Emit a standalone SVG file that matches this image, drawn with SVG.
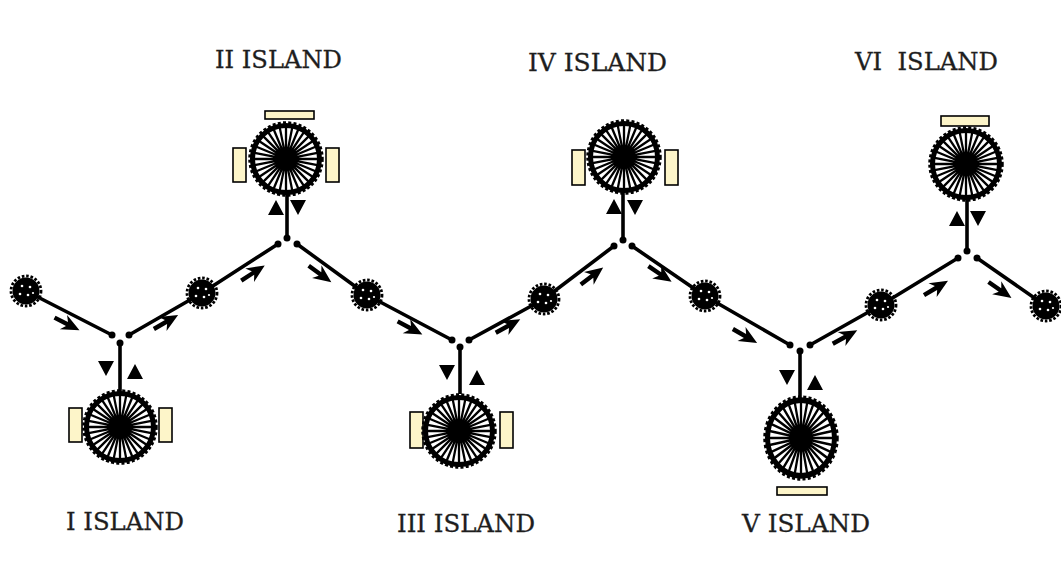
<svg xmlns="http://www.w3.org/2000/svg" xmlns:xlink="http://www.w3.org/1999/xlink" width="1061" height="572" viewBox="0 0 1061 572">
  <style>
    .link { stroke: #000; stroke-width: 3.6; stroke-linecap: round; fill: none; }
    .stub { stroke: #000; stroke-width: 3.6; fill: none; }
    .dot { fill: #000; }
    .pad { fill: #fdf5c9; stroke: #000; stroke-width: 1.6; }
    .tri { fill: #000; }
    .label { font-family: "DejaVu Serif", "Liberation Serif", serif; font-size: 24px; fill: #1e1e1e; stroke: #1e1e1e; stroke-width: 0.3; }
  </style>
  <defs>
    <!-- large spoked wheel (island) -->
    <g id="wheel">
      <circle r="33.5" fill="#fff" stroke="#000" stroke-width="5"/>
      <circle r="36" fill="none" stroke="#000" stroke-width="3.5" stroke-dasharray="3 2.2"/>
      <path stroke="#000" stroke-width="2.3" fill="none"
        d="M-32 0L32 0M-31.39 -6.24L31.39 6.24M-29.56 -12.25L29.56 12.25M-26.61 -17.78L26.61 17.78M-22.63 -22.63L22.63 22.63M-17.78 -26.61L17.78 26.61M-12.25 -29.56L12.25 29.56M-6.24 -31.39L6.24 31.39
           M0 -32L0 32M6.24 -31.39L-6.24 31.39M12.25 -29.56L-12.25 29.56M17.78 -26.61L-17.78 26.61M22.63 -22.63L-22.63 22.63M26.61 -17.78L-26.61 17.78M29.56 -12.25L-29.56 12.25M31.39 -6.24L-31.39 6.24"/>
      <circle r="9" fill="#000"/>
    </g>
    <!-- small beaded ring node -->
    <g id="knot">
      <circle r="13.5" fill="#000"/>
      <circle r="15" fill="none" stroke="#000" stroke-width="2.8" stroke-dasharray="2.6 1.8"/>
      <circle cx="-4" cy="-5" r="1.3" fill="#fff"/>
      <circle cx="4" cy="-4" r="1.3" fill="#fff"/>
      <circle cx="-6" cy="3" r="1.3" fill="#fff"/>
      <circle cx="2" cy="4" r="1.3" fill="#fff"/>
      <circle cx="7" cy="2" r="1.1" fill="#fff"/>
    </g>
    <!-- flow arrow pointing along +x -->
    <path id="flow" d="M-14 -2.2L0 -2.2L-4 -8L14 0L-4 8L0 2.2L-14 2.2Z" fill="#000"/>
    <!-- up / down triangles beside each stub -->
    <path id="tri-up" d="M-8 7L8 7L0 -8Z"/>
    <path id="tri-down" d="M-8 -7L8 -7L0 8Z"/>
  </defs>

  <rect width="1061" height="572" fill="#fff"/>

  <!-- connectors -->
  <g id="connectors">
    <path class="link" d="M26 291L112 335"/>
    <path class="link" d="M129 335L202 293"/>
    <path class="link" d="M202 293L278 244"/>
    <path class="link" d="M297 244L367 295"/>
    <path class="link" d="M367 295L452 340"/>
    <path class="link" d="M469 340L544 299"/>
    <path class="link" d="M544 299L614 246"/>
    <path class="link" d="M632 246L705 296"/>
    <path class="link" d="M705 296L790 345"/>
    <path class="link" d="M810 345L881 305"/>
    <path class="link" d="M881 305L958 258"/>
    <path class="link" d="M977 258L1046 306"/>

    <!-- stubs from junctions to islands -->
    <path class="stub" d="M120 346L120 392"/>
    <path class="stub" d="M287 236L287 194"/>
    <path class="stub" d="M460 350L460 394"/>
    <path class="stub" d="M623 238L623 190"/>
    <path class="stub" d="M800 354L800 398"/>
    <path class="stub" d="M967 252L967 198"/>

    <!-- junction dots -->
    <g class="dot">
      <circle cx="112" cy="335" r="3.5"/><circle cx="129" cy="335" r="3.5"/><circle cx="120" cy="343" r="3.5"/>
      <circle cx="278" cy="244" r="3.5"/><circle cx="297" cy="244" r="3.5"/><circle cx="287" cy="238" r="3.5"/>
      <circle cx="452" cy="340" r="3.5"/><circle cx="469" cy="340" r="3.5"/><circle cx="460" cy="347" r="3.5"/>
      <circle cx="614" cy="246" r="3.5"/><circle cx="632" cy="246" r="3.5"/><circle cx="623" cy="240" r="3.5"/>
      <circle cx="790" cy="345" r="3.5"/><circle cx="810" cy="345" r="3.5"/><circle cx="800" cy="351" r="3.5"/>
      <circle cx="958" cy="258" r="3.5"/><circle cx="977" cy="258" r="3.5"/><circle cx="967" cy="251" r="3.5"/>
    </g>

    <!-- flow arrows -->
    <use xlink:href="#flow" transform="translate(67 324) rotate(27)"/>
    <use xlink:href="#flow" transform="translate(166 322) rotate(-30)"/>
    <use xlink:href="#flow" transform="translate(253 273) rotate(-33)"/>
    <use xlink:href="#flow" transform="translate(320 274) rotate(36)"/>
    <use xlink:href="#flow" transform="translate(410 328) rotate(28)"/>
    <use xlink:href="#flow" transform="translate(508 326) rotate(-29)"/>
    <use xlink:href="#flow" transform="translate(592 276) rotate(-37)"/>
    <use xlink:href="#flow" transform="translate(660 274) rotate(34)"/>
    <use xlink:href="#flow" transform="translate(745 336) rotate(30)"/>
    <use xlink:href="#flow" transform="translate(845 337) rotate(-29)"/>
    <use xlink:href="#flow" transform="translate(936 288) rotate(-31)"/>
    <use xlink:href="#flow" transform="translate(1000 290) rotate(35)"/>

    <!-- stub triangles -->
    <g class="tri">
      <use xlink:href="#tri-down" x="106" y="368"/><use xlink:href="#tri-up" x="135" y="372"/>
      <use xlink:href="#tri-up" x="276" y="208"/><use xlink:href="#tri-down" x="298" y="207"/>
      <use xlink:href="#tri-down" x="447" y="372"/><use xlink:href="#tri-up" x="477" y="378"/>
      <use xlink:href="#tri-up" x="614" y="207"/><use xlink:href="#tri-down" x="635" y="207"/>
      <use xlink:href="#tri-down" x="787" y="377"/><use xlink:href="#tri-up" x="815" y="383"/>
      <use xlink:href="#tri-up" x="957" y="219"/><use xlink:href="#tri-down" x="978" y="218"/>
    </g>
  </g>

  <!-- small ring nodes -->
  <g id="node-k1"><use xlink:href="#knot" x="26" y="291"/></g>
  <g id="node-k2"><use xlink:href="#knot" x="202" y="293"/></g>
  <g id="node-k3"><use xlink:href="#knot" x="367" y="295"/></g>
  <g id="node-k4"><use xlink:href="#knot" x="544" y="299"/></g>
  <g id="node-k5"><use xlink:href="#knot" x="705" y="296"/></g>
  <g id="node-k6"><use xlink:href="#knot" x="881" y="305"/></g>
  <g id="node-k7"><use xlink:href="#knot" x="1046" y="306"/></g>

  <!-- islands -->
  <g id="island-1">
    <rect class="pad" x="69" y="408" width="13" height="34"/>
    <rect class="pad" x="159" y="408" width="13" height="34"/>
    <use xlink:href="#wheel" x="120" y="427"/>
    <text class="label" x="66" y="530" textLength="118" lengthAdjust="spacingAndGlyphs">I ISLAND</text>
  </g>
  <g id="island-2">
    <rect class="pad" x="265" y="111" width="49" height="8"/>
    <rect class="pad" x="233" y="148" width="13" height="34"/>
    <rect class="pad" x="326" y="148" width="13" height="34"/>
    <use xlink:href="#wheel" x="286" y="159"/>
    <text class="label" x="215" y="68" textLength="127" lengthAdjust="spacingAndGlyphs">II ISLAND</text>
  </g>
  <g id="island-3">
    <rect class="pad" x="410" y="412" width="13" height="36"/>
    <rect class="pad" x="500" y="412" width="13" height="36"/>
    <use xlink:href="#wheel" x="459" y="431"/>
    <text class="label" x="397" y="532" textLength="138" lengthAdjust="spacingAndGlyphs">III ISLAND</text>
  </g>
  <g id="island-4">
    <rect class="pad" x="572" y="150" width="13" height="35"/>
    <rect class="pad" x="665" y="150" width="13" height="35"/>
    <use xlink:href="#wheel" x="624" y="157"/>
    <text class="label" x="528" y="71" textLength="139" lengthAdjust="spacingAndGlyphs">IV ISLAND</text>
  </g>
  <g id="island-5">
    <rect class="pad" x="777" y="487" width="50" height="8"/>
    <use xlink:href="#wheel" transform="translate(801 438) scale(1 1.13)"/>
    <text class="label" x="742" y="532" textLength="128" lengthAdjust="spacingAndGlyphs">V ISLAND</text>
  </g>
  <g id="island-6">
    <rect class="pad" x="941" y="116" width="48" height="10"/>
    <use xlink:href="#wheel" x="966" y="164"/>
    <text class="label" x="855" y="70" textLength="143" lengthAdjust="spacingAndGlyphs" xml:space="preserve">VI  ISLAND</text>
  </g>
</svg>
